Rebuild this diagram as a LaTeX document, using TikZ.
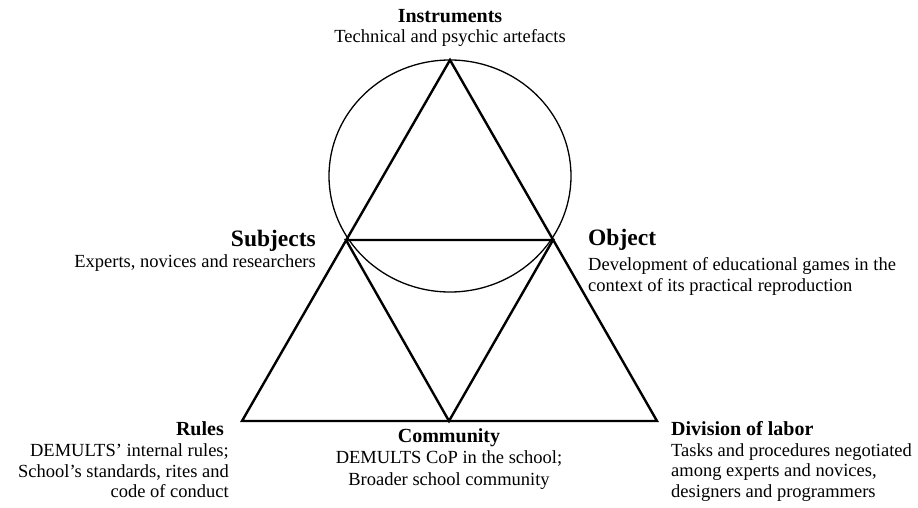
\documentclass[tikz,border=0pt]{standalone}
\usepackage{fontspec}
\setmainfont{Liberation Serif}
\begin{document}
\begin{tikzpicture}[x=1pt,y=-1pt,
  edge/.style={line width=2.4pt, line join=miter},
  ring/.style={line width=1.3pt},
  hd/.style={font=\bfseries\fontsize{20}{24}\selectfont, inner sep=0pt},
  hdbig/.style={font=\bfseries\fontsize{23.5}{28}\selectfont, inner sep=0pt},
  txt/.style={font=\fontsize{18.5}{21.5}\selectfont, inner sep=0pt}]
\useasboundingbox (0,0) rectangle (918,508);
% vertices
\coordinate (I) at (450,60);
\coordinate (S) at (346,240);
\coordinate (O) at (553,240);
\coordinate (R) at (242,421);
\coordinate (C) at (449,421);
\coordinate (D) at (657,421);
\coordinate (ctr) at (450,176);
% figure
\draw[ring] (ctr) ellipse [x radius=121, y radius=116];
\draw[edge] (R) -- (I) -- (D) -- cycle;
\draw[edge] (S) -- (O) -- (C) -- cycle;
% Instruments
\node[hd, anchor=base] (instH) at (450,23) {Instruments};
\node[txt, anchor=base] (instT) at (450,43) {Technical and psychic artefacts};
% Subjects
\node[hdbig, anchor=base east] (subjH) at (316,246) {Subjects};
\node[txt, anchor=base east] (subjT) at (316,267) {Experts, novices and researchers};
% Object
\node[hdbig, anchor=base west] (objH) at (588,245) {Object};
\node[txt, anchor=base west] (objT1) at (588,270) {Development of educational games in the};
\node[txt, anchor=base west] (objT2) at (588,291.5) {context of its practical reproduction};
% Rules
\node[hd, anchor=base east] (ruleH) at (224,435) {Rules};
\node[txt, anchor=base east] (ruleT1) at (229,456.5) {DEMULTS’ internal rules;};
\node[txt, anchor=base east] (ruleT2) at (229,477) {School’s standards, rites and};
\node[txt, anchor=base east] (ruleT3) at (229,497.5) {code of conduct};
% Community
\node[hd, anchor=base] (comH) at (449,442) {Community};
\node[txt, anchor=base] (comT1) at (449,463.5) {DEMULTS CoP in the school;};
\node[txt, anchor=base] (comT2) at (449,485.5) {Broader school community};
% Division of labor
\node[hd, anchor=base west] (divH) at (671,435) {Division of labor};
\node[txt, anchor=base west] (divT1) at (671,456) {Tasks and procedures negotiated};
\node[txt, anchor=base west] (divT2) at (671,476.5) {among experts and novices,};
\node[txt, anchor=base west] (divT3) at (671,497.5) {designers and programmers};
\end{tikzpicture}
\end{document}
